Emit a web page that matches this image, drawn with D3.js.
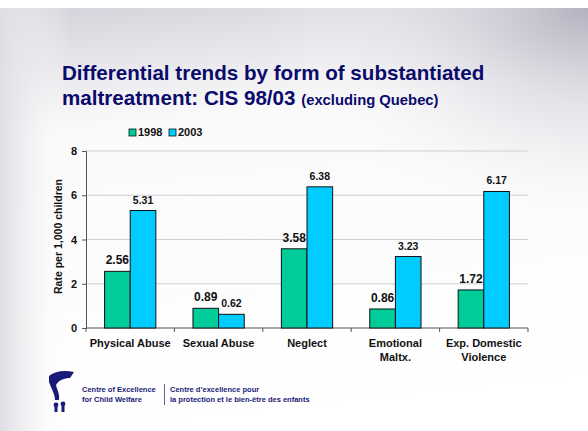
<!DOCTYPE html>
<html>
<head>
<meta charset="utf-8">
<script src="https://cdn.jsdelivr.net/npm/d3@7"></script>
<style>
  body { margin: 0; }
  svg { display: block; font-family: "Liberation Sans", Arial, sans-serif; }
</style>
</head>
<body>
<svg id="chart" width="588" height="431"></svg>
<script>
var categories = [["Physical Abuse"], ["Sexual Abuse"], ["Neglect"], ["Emotional", "Maltx."], ["Exp. Domestic", "Violence"]];
var years = ["1998", "2003"];
var values1998 = [2.56, 0.89, 3.58, 0.86, 1.72];
var values2003 = [5.31, 0.62, 6.38, 3.23, 6.17];
var yTicks = [0, 2, 4, 6, 8];

var colors = {"1998": "#00cc99", "2003": "#00ccff"};
var navy = "#0a0a6b";

var svg = d3.select("#chart");
var defs = svg.append("defs");

// slide background
var g1 = defs.append("linearGradient").attr("id", "bgTop")
  .attr("x1", "0").attr("y1", "0").attr("x2", "0.15").attr("y2", "1");
g1.append("stop").attr("offset", "0").attr("stop-color", "#d2d2da");
g1.append("stop").attr("offset", "0.3").attr("stop-color", "#fafafb");
g1.append("stop").attr("offset", "1").attr("stop-color", "#ffffff");
var g2 = defs.append("radialGradient").attr("id", "bgCorner")
  .attr("cx", "1").attr("cy", "0").attr("r", "0.55");
g2.append("stop").attr("offset", "0").attr("stop-color", "#b0b0be").attr("stop-opacity", 0.95);
g2.append("stop").attr("offset", "1").attr("stop-color", "#ffffff").attr("stop-opacity", 0);
var g3 = defs.append("linearGradient").attr("id", "bgLeft")
  .attr("x1", "0").attr("y1", "0").attr("x2", "1").attr("y2", "0");
g3.append("stop").attr("offset", "0").attr("stop-color", "#dedee4").attr("stop-opacity", 1);
g3.append("stop").attr("offset", "0.12").attr("stop-color", "#ffffff").attr("stop-opacity", 0);

svg.append("rect").attr("width", 588).attr("height", 431).attr("fill", "#fff");
svg.append("rect").attr("y", 8).attr("width", 588).attr("height", 423).attr("fill", "url(#bgTop)");
svg.append("rect").attr("y", 8).attr("width", 588).attr("height", 423).attr("fill", "url(#bgLeft)");
svg.append("rect").attr("y", 8).attr("width", 588).attr("height", 423).attr("fill", "url(#bgCorner)");

// title
var title = svg.append("text").attr("x", 62).attr("fill", navy)
  .attr("font-weight", "bold").attr("font-size", 20.6);
title.append("tspan").attr("x", 62).attr("y", 80).text("Differential trends by form of substantiated");
title.append("tspan").attr("x", 62).attr("y", 105).text("maltreatment: CIS 98/03 ");
title.append("tspan").attr("font-size", 14.8).text("(excluding Quebec)");

// chart
var margin = {left: 86, top: 151, right: 60, bottom: 103};
var width = 588 - margin.left - margin.right,
  height = 431 - margin.top - margin.bottom;
var main = svg.append("g").attr("transform", "translate(" + margin.left + "," + margin.top + ")");

var x = d3.scaleBand().domain(d3.range(categories.length)).range([0, width]).paddingInner(0.42).paddingOuter(0.21);
var xs = d3.scaleBand().domain(years).range([0, x.bandwidth()]);
var y = d3.scaleLinear().domain([0, 8]).range([height, 0]);

main.selectAll("line.grid").data(yTicks.slice(1)).enter().append("line")
  .attr("class", "grid")
  .attr("x1", 0).attr("x2", width)
  .attr("y1", function(d) {return y(d)}).attr("y2", function(d) {return y(d)})
  .attr("stroke", "#cfcfcf").attr("stroke-width", 1.2);

var yaxis = d3.axisLeft(y).tickValues(yTicks).tickSize(4).tickPadding(5);
var ya = main.append("g").call(yaxis);
ya.select(".domain").attr("stroke", "#555");
ya.selectAll(".tick line").attr("stroke", "#555");
ya.selectAll("text").attr("font-size", 11).attr("font-weight", "bold").attr("fill", "#111");

// x axis baseline with ticks between categories
main.append("line").attr("x1", 0).attr("x2", width).attr("y1", height).attr("y2", height)
  .attr("stroke", "#555");
main.selectAll("line.xtick").data(d3.range(categories.length + 1)).enter().append("line")
  .attr("class", "xtick")
  .attr("x1", function(i) {return i * width / categories.length})
  .attr("x2", function(i) {return i * width / categories.length})
  .attr("y1", height).attr("y2", height + 4)
  .attr("stroke", "#555");

var series = [{year: "1998", values: values1998}, {year: "2003", values: values2003}];
series.forEach(function(s) {
  main.selectAll("rect.b" + s.year).data(s.values).enter().append("rect")
    .attr("class", "b" + s.year)
    .attr("x", function(d, i) {return x(i) + xs(s.year)})
    .attr("y", function(d) {return y(d)})
    .attr("width", xs.bandwidth())
    .attr("height", function(d) {return height - y(d)})
    .attr("fill", colors[s.year])
    .attr("stroke", "#111").attr("stroke-width", 1);
  main.selectAll("text.l" + s.year).data(s.values).enter().append("text")
    .attr("class", "l" + s.year)
    .attr("x", function(d, i) {return x(i) + xs(s.year) + xs.bandwidth() / 2})
    .attr("y", function(d) {return y(d) - 7})
    .attr("text-anchor", "middle")
    .attr("font-size", s.year == "1998" ? 12 : 10.5).attr("font-weight", "bold").attr("fill", "#111")
    .text(function(d) {return d.toFixed(2)});
});

// category labels
var cl = main.selectAll("text.cat").data(categories).enter().append("text")
  .attr("class", "cat")
  .attr("text-anchor", "middle")
  .attr("font-size", 11).attr("font-weight", "bold").attr("fill", "#111");
cl.each(function(lines, i) {
  var t = d3.select(this);
  lines.forEach(function(l, j) {
    t.append("tspan").attr("x", x(i) + x.bandwidth() / 2).attr("y", height + 19 + j * 14).text(l);
  });
});

// y title
main.append("text")
  .attr("transform", "translate(-24," + (height / 2 - 3) + ") rotate(-90)")
  .attr("text-anchor", "middle").attr("font-size", 10.5).attr("font-weight", "bold").attr("fill", "#111")
  .text("Rate per 1,000 children");

// legend
var legend = svg.append("g").attr("transform", "translate(129,129)");
years.forEach(function(yr, i) {
  var lg = legend.append("g").attr("transform", "translate(" + (i * 40) + ",0)");
  lg.append("rect").attr("width", 7).attr("height", 7).attr("fill", colors[yr]).attr("stroke", "#111").attr("stroke-width", 0.8);
  lg.append("text").attr("x", 9).attr("y", 7).attr("font-size", 11).attr("font-weight", "bold").attr("fill", "#111").text(yr);
});

// footer logo
var logo = svg.append("g").attr("fill", "#1a1a78");
logo.append("path").attr("d", "M49,376 C55,371 64,370 74,372 L70,378 C64,378 59,380 56,385 C57,390 60,394 59,400 L55,400 C55,394 51,388 49,382 Z");
logo.append("circle").attr("cx", 56).attr("cy", 405).attr("r", 2.4);
logo.append("circle").attr("cx", 63).attr("cy", 404).attr("r", 2.4);
logo.append("rect").attr("x", 54.5).attr("y", 407).attr("width", 3).attr("height", 5);
logo.append("rect").attr("x", 61.5).attr("y", 406).attr("width", 3).attr("height", 6);

var foot = svg.append("g").attr("fill", "#1a1a78").attr("font-size", 7.5).attr("font-weight", "bold");
foot.append("text").attr("x", 82).attr("y", 392).text("Centre of Excellence");
foot.append("text").attr("x", 82).attr("y", 402).text("for Child Welfare");
foot.append("line").attr("x1", 164.5).attr("x2", 164.5).attr("y1", 384).attr("y2", 405).attr("stroke", "#1a1a78").attr("stroke-width", 0.7);
foot.append("text").attr("x", 170).attr("y", 392).text("Centre d\u2019excellence pour");
foot.append("text").attr("x", 170).attr("y", 402).text("la protection et le bien-\u00eatre des enfants");
</script>
</body>
</html>
